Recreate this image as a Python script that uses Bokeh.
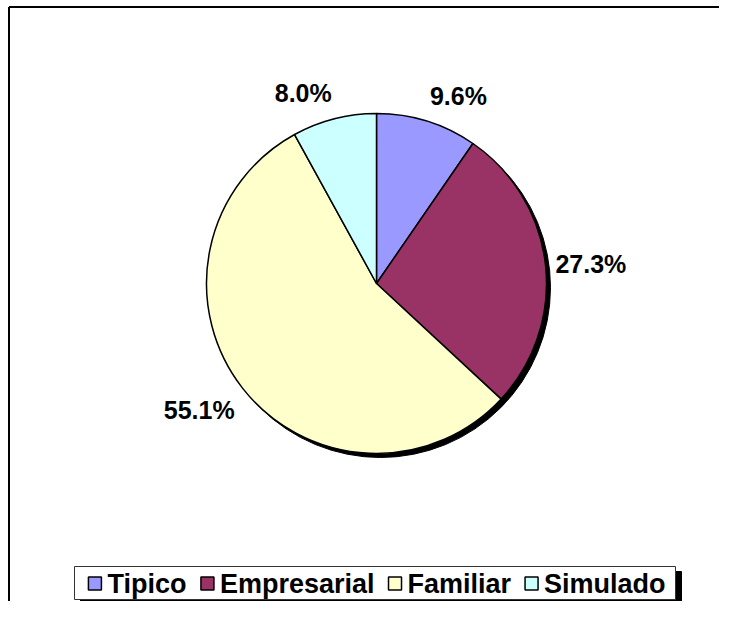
import math
from bokeh.plotting import figure
from bokeh.models import Range1d, ColumnDataSource
from bokeh.embed import file_html
from bokeh.resources import INLINE
from bokeh.core.properties import value

# ---- data ----
categories = ["Tipico", "Empresarial", "Familiar", "Simulado"]
percentages = [9.6, 27.3, 55.1, 8.0]
pct_labels = ["9.6%", "27.3%", "55.1%", "8.0%"]
colors = ["#9999FF", "#993366", "#FFFFCC", "#CCFFFF"]

# ---- layout (pixel-like data space: x = image x, y = 617 - image y) ----
W, H = 719, 601
FONT = "Liberation Sans"
SH = 7
X0, X1 = 8 - SH, 727 - SH
p = figure(width=W, height=H, x_range=Range1d(X0, X1), y_range=Range1d(8 + SH, 609 + SH),
           x_axis_type=None, y_axis_type=None, toolbar_location=None,
           output_backend="svg", min_border=0, outline_line_color=None,
           background_fill_color="white", border_fill_color="white")
p.grid.visible = False

# outer chart frame (only left and top edges are visible in the crop)
p.segment(x0=[9.5, 9.5], y0=[0, 609.5], x1=[9.5, X1], y1=[609.5, 609.5],
          line_color="black", line_width=2)

# ---- pie ----
cx, cy, R = 377, 333, 170
total = sum(percentages)
starts, ends, mids = [], [], []
cum = 0.0
for v in percentages:
    a0 = math.pi / 2 - 2 * math.pi * cum / total
    cum += v
    a1 = math.pi / 2 - 2 * math.pi * cum / total
    starts.append(a0)
    ends.append(a1)
    mids.append((a0 + a1) / 2)

# shadow
p.circle(x=[cx + 4], y=[cy - 4], radius=R, fill_color="black", line_color="black")

src = ColumnDataSource(dict(start=starts, end=ends, color=colors, cat=categories))
p.wedge(x=cx, y=cy, radius=R, start_angle="start", end_angle="end", direction="clock",
        fill_color="color", line_color="black", line_width=1.5, source=src)

cw = {"T": .611, "i": .278, "p": .611, "c": .556, "o": .611, "E": .667, "m": .889,
      "r": .389, "e": .556, "s": .556, "a": .556, "l": .278, "F": .611, "S": .667,
      "u": .611, "d": .611, ".": .278, "%": .889}
for dgt in "0123456789":
    cw[dgt] = .556

# data labels: nearest box corner/edge sits on the slice's mid-angle ray
PFS = 25
D = R + 10
HH = 16
lx, ly = [], []
for m, t in zip(mids, pct_labels):
    w = sum(cw.get(ch, .6) for ch in t) * PFS
    ux, uy = math.cos(m), math.sin(m)
    px, py = cx + D * ux, cy + D * uy
    fx = 1 if ux > 0 else -1
    fy = 1 if uy > 0.5 else (-1 if uy < -0.5 else 0)
    lx.append(px + fx * w / 2)
    ly.append(py + fy * HH)
p.text(x=lx, y=ly, text=pct_labels, text_font=value(FONT), text_font_style="bold",
       text_font_size=f"{PFS}px", text_align="center", text_baseline="middle",
       text_color="black")

# ---- legend ----
LFS = 27
MS = 13
gap_mt, gap_entry = 6, 14
text_w = [sum(cw.get(ch, .6) for ch in c) * LFS for c in categories]
content = sum(text_w) + len(categories) * (MS + gap_mt) + (len(categories) - 1) * gap_entry
box_left = 75
box_right = 676
x0 = box_left + 10 + ((box_right - 6) - (box_left + 10) - content) / 2
ly_c = 33
box_top, box_bot = 50, 17
# shadow + box
p.quad(left=[box_left + 6], right=[box_right + 6], top=[box_top - 5], bottom=[box_bot - 5],
       fill_color="black", line_color="black")
p.quad(left=[box_left], right=[box_right], top=[box_top], bottom=[box_bot],
       fill_color="white", line_color="#333333", line_width=1)

mx, tx = [], []
x = x0
for w in text_w:
    mx.append(x + MS / 2)
    tx.append(x + MS + gap_mt)
    x += MS + gap_mt + w + gap_entry
p.rect(x=mx, y=[ly_c] * 4, width=MS, height=MS, fill_color=colors,
       line_color="black", line_width=1.5)
p.text(x=tx, y=[ly_c] * 4, text=categories, text_font=value(FONT), text_font_style="bold",
       text_font_size=f"{LFS}px", text_align="left", text_baseline="middle",
       text_color="black")

open("out.html", "w").write(file_html(p, INLINE))
